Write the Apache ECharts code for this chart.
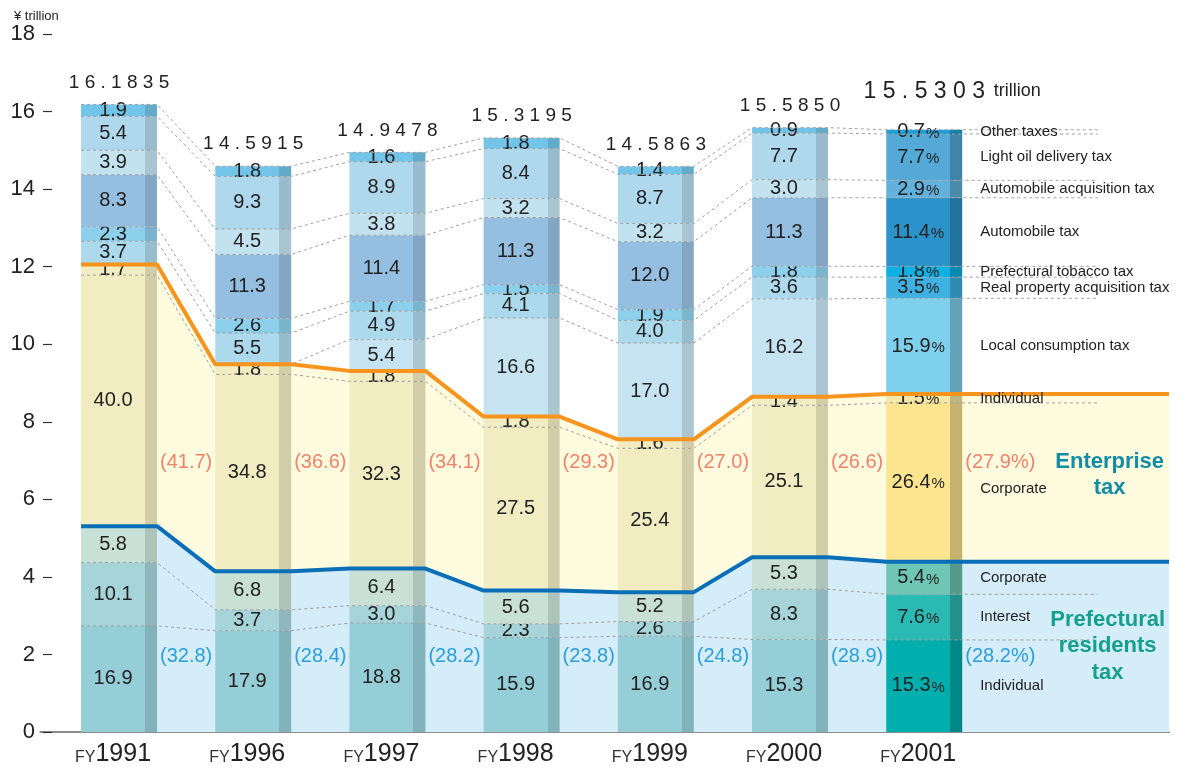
<!DOCTYPE html>
<html>
<head>
<meta charset="utf-8">
<script src="https://cdn.jsdelivr.net/npm/echarts@6.0.0/dist/echarts.min.js"></script>
<style>
  html, body { margin: 0; padding: 0; background: #fff; }
  #chart { width: 1184px; height: 771px; }
</style>
</head>
<body>
<div id="chart"></div>
<script>
// fiscal years and total prefectural tax revenue (¥ trillion)
const years = ['1991', '1996', '1997', '1998', '1999', '2000', '2001']
const totals = [16.1835, 14.5915, 14.9478, 15.3195, 14.5863, 15.5850, 15.5303]

// composition in %, bottom of the bar to the top
const resIndividual = [16.9, 17.9, 18.8, 15.9, 16.9, 15.3, 15.3]
const resInterest = [10.1, 3.7, 3.0, 2.3, 2.6, 8.3, 7.6]
const resCorporate = [5.8, 6.8, 6.4, 5.6, 5.2, 5.3, 5.4]
const entCorporate = [40.0, 34.8, 32.3, 27.5, 25.4, 25.1, 26.4]
const entIndividual = [1.7, 1.8, 1.8, 1.8, 1.6, 1.4, 1.5]
const localConsumption = [0, 0, 5.4, 16.6, 17.0, 16.2, 15.9]
const realProperty = [3.7, 5.5, 4.9, 4.1, 4.0, 3.6, 3.5]
const tobacco = [2.3, 2.6, 1.7, 1.5, 1.9, 1.8, 1.8]
const automobile = [8.3, 11.3, 11.4, 11.3, 12.0, 11.3, 11.4]
const autoAcquisition = [3.9, 4.5, 3.8, 3.2, 3.2, 3.0, 2.9]
const lightOil = [5.4, 9.3, 8.9, 8.4, 8.7, 7.7, 7.7]
const otherTaxes = [1.9, 1.8, 1.6, 1.8, 1.4, 0.9, 0.7]

// subtotal labels
const residentsShare = ['32.8', '28.4', '28.2', '23.8', '24.8', '28.9', '28.2%']
const enterpriseShare = ['41.7', '36.6', '34.1', '29.3', '27.0', '26.6', '27.9%']

const segmentNames = ['Individual', 'Interest', 'Corporate', 'Corporate', 'Individual',
  'Local consumption tax', 'Real property acquisition tax', 'Prefectural tobacco tax',
  'Automobile tax', 'Automobile acquisition tax', 'Light oil delivery tax', 'Other taxes']

const shares = [resIndividual, resInterest, resCorporate, entCorporate, entIndividual,
  localConsumption, realProperty, tobacco, automobile, autoAcquisition, lightOil, otherTaxes]

// [older years, FY2001]
const colors = [
  ['#95ced6', '#00aeae'],
  ['#a6d4d8', '#2bbab3'],
  ['#c8e0d5', '#6fc6b4'],
  ['#f1ecc2', '#fde48e'],
  ['#f1ecc2', '#f6e7a6'],
  ['#c5e3f0', '#7fd0ec'],
  ['#acd9ec', '#3eb0e2'],
  ['#8dd0ec', '#0cb0e2'],
  ['#95bfe0', '#2b92ca'],
  ['#c2e2f0', '#62b1dc'],
  ['#afd8ec', '#55a9d6'],
  ['#72c4e9', '#1aa0d9'],
]

const FONT = '"Liberation Sans", Arial, sans-serif'
const LAST = years.length - 1
const HALF = 38 / 134.25          // half a bar, in category units
const X_MIN = -0.589
const X_MAX = 7.824
const X_DASH_END = 7.292

const darken = (hex, f) => {
  const n = parseInt(hex.slice(1), 16)
  const r = Math.round(((n >> 16) & 255) * f)
  const g = Math.round(((n >> 8) & 255) * f)
  const b = Math.round((n & 255) * f)
  return `rgb(${r},${g},${b})`
}

const barFill = (c, f) => new echarts.graphic.LinearGradient(0, 0, 1, 0, [
  { offset: 0, color: c },
  { offset: 0.842, color: c },
  { offset: 0.842, color: darken(c, f) },
  { offset: 1, color: darken(c, f) },
])

const sumPct = years.map((_, i) => shares.reduce((s, a) => s + a[i], 0))
const seg = shares.map(arr => arr.map((p, i) => totals[i] * p / sumPct[i]))
const cum = seg.map((_, k) => years.map((_, i) => seg.slice(0, k + 1).reduce((s, a) => s + a[i], 0)))

const stepPoints = (vals, xEnd) => {
  const pts = []
  vals.forEach((v, i) => { pts.push([i - HALF, v], [i + HALF, v]) })
  pts.push([xEnd, vals[vals.length - 1]])
  return pts
}

const spaced = s => s.split('').join(' ')

const hiddenDot = { symbolSize: 1, itemStyle: { color: 'transparent', opacity: 1 }, silent: true }

const series = []

// background bands
series.push({
  type: 'line', z: 1, silent: true, symbol: 'none',
  data: stepPoints(cum[4], X_MAX),
  lineStyle: { width: 0 },
  areaStyle: { color: '#fefbdf', opacity: 1 },
})
series.push({
  type: 'line', z: 1, silent: true, symbol: 'none',
  data: stepPoints(cum[2], X_MAX),
  lineStyle: { width: 0 },
  areaStyle: { color: '#d5ecf9', opacity: 1 },
})

// stacked bar segments: [year index, bottom, top]
shares.forEach((arr, k) => {
  series.push({
    type: 'custom', z: 2, silent: true,
    data: years.map((_, i) => [i, cum[k][i] - seg[k][i], cum[k][i]]),
    renderItem: (params, api) => {
      const i = api.value(0)
      const p0 = api.coord([i - HALF, api.value(2)])
      const p1 = api.coord([i + HALF, api.value(1)])
      const w = p1[0] - p0[0]
      const h = p1[1] - p0[1]
      const last = i === LAST
      const pct = arr[i]
      const children = [{
        type: 'rect',
        shape: { x: p0[0], y: p0[1], width: w, height: h },
        style: { fill: barFill(colors[k][last ? 1 : 0], last ? 0.78 : 0.87) },
      }]
      if (pct) {
        children.push({
          type: 'text',
          x: p0[0] + w * 0.421,
          y: (p0[1] + p1[1]) / 2,
          style: {
            text: last ? `{v|${pct.toFixed(1)}}{p|%}` : pct.toFixed(1),
            align: 'center',
            verticalAlign: 'middle',
            fontFamily: FONT,
            fontSize: 20,
            fill: '#222',
            rich: {
              v: { fontFamily: FONT, fontSize: 20, fill: '#222', verticalAlign: 'bottom' },
              p: { fontFamily: FONT, fontSize: 15, fill: '#222', verticalAlign: 'bottom', padding: [0, 0, 1, 1] },
            },
          },
        })
      }
      return { type: 'group', children }
    },
  })
})

// dashed connectors
cum.forEach((vals, k) => {
  if (k === 2 || k === 4) return
  series.push({
    type: 'line', z: 3, silent: true, symbol: 'none',
    data: stepPoints(vals, X_DASH_END),
    lineStyle: { color: '#a0a0a0', width: 1, type: [3, 3] },
  })
})

// group borders
series.push({
  type: 'line', z: 4, silent: true, symbol: 'none',
  data: stepPoints(cum[2], X_MAX),
  lineStyle: { color: '#0b6fb8', width: 4 },
})
series.push({
  type: 'line', z: 4, silent: true, symbol: 'none',
  data: stepPoints(cum[4], X_MAX),
  lineStyle: { color: '#f7941d', width: 4 },
})

// totals above bars
series.push({
  type: 'scatter', z: 5, ...hiddenDot,
  data: totals.map((t, i) => ({
    value: [i, t],
    label: i === LAST ? { fontSize: 23, distance: 26 } : {},
  })),
  label: {
    show: true, position: 'top', distance: 12,
    fontFamily: FONT, fontSize: 19, color: '#222',
    formatter: p => spaced(totals[p.dataIndex].toFixed(4)),
  },
})
series.push({
  type: 'scatter', z: 5, ...hiddenDot,
  data: [[LAST, totals[LAST]]],
  label: {
    show: true, position: 'top', distance: 29, offset: [93, 0],
    fontFamily: FONT, fontSize: 18, color: '#222',
    formatter: 'trillion',
  },
})

const plainLabel = { textBorderWidth: 0, textShadowBlur: 0 }

// subtotal shares between bars
series.push({
  type: 'scatter', z: 5, ...hiddenDot,
  data: enterpriseShare.map((s, i) => ({ value: [i + 0.5, 6.94], label: i === LAST ? { offset: [9, 0] } : {} })),
  label: {
    show: true, position: 'inside', fontFamily: FONT, fontSize: 20, color: '#f2836b', ...plainLabel,
    formatter: p => `(${enterpriseShare[p.dataIndex]})`,
  },
})
series.push({
  type: 'scatter', z: 5, ...hiddenDot,
  data: residentsShare.map((s, i) => ({ value: [i + 0.5, 1.96], label: i === LAST ? { offset: [9, 0] } : {} })),
  label: {
    show: true, position: 'inside', fontFamily: FONT, fontSize: 20, color: '#2a9fdc', ...plainLabel,
    formatter: p => `(${residentsShare[p.dataIndex]})`,
  },
})

// segment names beside FY2001
series.push({
  type: 'scatter', z: 5, ...hiddenDot,
  data: segmentNames.map((n, k) => ({
    value: [6.413, cum[k][LAST] - seg[k][LAST] / 2],
    label: k === 3 ? { offset: [0, 7] } : {},
  })),
  label: {
    show: true, position: 'right', distance: 0,
    fontFamily: FONT, fontSize: 15, color: '#222',
    formatter: p => segmentNames[p.dataIndex],
  },
})

// group titles
series.push({
  type: 'scatter', z: 5, ...hiddenDot,
  data: [
    { value: [7.382, 6.627], label: { formatter: 'Enterprise\ntax', color: '#138ca6' } },
    { value: [7.367, 2.218], label: { formatter: 'Prefectural\nresidents\ntax', color: '#14a08c' } },
  ],
  label: {
    show: true, position: 'inside', align: 'center', ...plainLabel,
    fontFamily: FONT, fontSize: 22, fontWeight: 'bold', lineHeight: 26.5,
  },
})

const chart = echarts.init(document.getElementById('chart'))

chart.setOption({
  animation: false,
  title: {
    text: '¥ trillion', left: 9, top: 5,
    textStyle: { fontFamily: FONT, fontSize: 13, fontWeight: 'normal', color: '#222' },
  },
  grid: { left: 40, right: 15, top: 34, bottom: 39, outerBoundsMode: 'none' },
  xAxis: {
    type: 'value', min: X_MIN, max: X_MAX,
    splitLine: { show: false },
    axisTick: { show: false },
    axisLine: { show: true, onZero: false, lineStyle: { color: '#666', width: 1.5 } },
    axisLabel: {
      customValues: years.map((_, i) => i),
      margin: 10,
      padding: [0, 12, 0, 0],
      formatter: v => `{fy|FY}{yr|${years[Math.round(v)]}}`,
      rich: {
        fy: { fontFamily: FONT, fontSize: 16, color: '#333', verticalAlign: 'bottom', padding: [0, 0, 1, 0] },
        yr: { fontFamily: FONT, fontSize: 25, color: '#222', verticalAlign: 'bottom' },
      },
    },
  },
  yAxis: {
    type: 'value', min: 0, max: 18, interval: 2, offset: -12,
    splitLine: { show: false },
    axisLine: { show: false, onZero: false },
    axisTick: { show: true, length: 9, lineStyle: { color: '#333', width: 1.2 } },
    axisLabel: { fontFamily: FONT, fontSize: 22, color: '#222', margin: 17 },
  },
  series,
})

window.addEventListener('resize', () => {
  chart.resize()
})
</script>
</body>
</html>
